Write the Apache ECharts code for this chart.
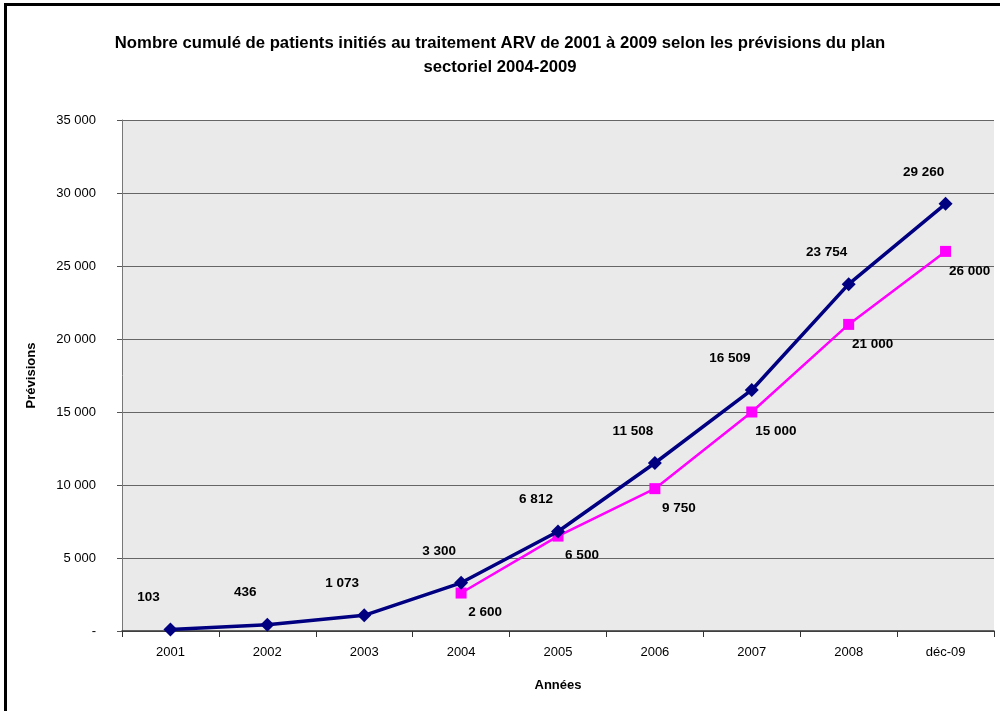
<!DOCTYPE html>
<html>
<head>
<meta charset="UTF-8">
<title>Patients ARV</title>
<style>
  html, body { margin: 0; padding: 0; background: #fff; }
  #chart { width: 1000px; height: 711px; }
</style>
</head>
<body>
<div id="chart"></div>
<script src="https://cdn.jsdelivr.net/npm/echarts@6/dist/echarts.min.js"></script>
<script>
// données
var annees = ['2001', '2002', '2003', '2004', '2005', '2006', '2007', '2008', 'déc-09'];
var cumulPatients = [103, 436, 1073, 3300, 6812, 11508, 16509, 23754, 29260];
var previsionsPlan = [null, null, null, 2600, 6500, 9750, 15000, 21000, 26000];
var yTicks = { min: 0, max: 35000, interval: 5000 };
var titre = [
  'Nombre cumulé de patients initiés au traitement ARV de 2001 à 2009 selon les prévisions du plan',
  'sectoriel 2004-2009'
];

// format "29 260"
function fmt(v) {
  if (v === 0) return '-';
  return String(v).replace(/\B(?=(\d{3})+(?!\d))/g, ' ');
}

var chart = echarts.init(document.getElementById('chart'));
var font = 'Liberation Sans, Arial, sans-serif';

var titles = titre.map(function (t, i) {
  return {
    text: t,
    left: 'center',
    top: 30 + i * 24,
    textStyle: { fontSize: 16.7, fontWeight: 'bold', color: '#000', fontFamily: font }
  };
});

chart.setOption({
  backgroundColor: '#fff',
  animation: false,
  textStyle: { fontFamily: font },
  title: titles,
  graphic: [{
    type: 'rect',
    shape: { x: 5.5, y: 4.5, width: 1000, height: 720 },
    style: { fill: 'none', stroke: '#000', lineWidth: 3 },
    silent: true
  }],
  grid: {
    left: 122, right: 6, top: 120, bottom: 80,
    show: true,
    backgroundColor: '#eaeaea',
    borderWidth: 0
  },
  xAxis: {
    type: 'category',
    data: annees,
    boundaryGap: true,
    name: 'Années',
    nameLocation: 'middle',
    nameGap: 48,
    nameTextStyle: { fontWeight: 'bold', fontSize: 13, color: '#000' },
    axisLine: { lineStyle: { color: '#333', width: 1.5 } },
    axisTick: { show: true, length: 6, lineStyle: { color: '#333' } },
    axisLabel: { color: '#000', fontSize: 13, margin: 15 }
  },
  yAxis: {
    type: 'value',
    min: yTicks.min,
    max: yTicks.max,
    interval: yTicks.interval,
    name: 'Prévisions',
    nameLocation: 'middle',
    nameGap: 84,
    nameRotate: 90,
    nameTextStyle: { fontWeight: 'bold', fontSize: 13, color: '#000' },
    axisLine: { show: true, lineStyle: { color: '#777' } },
    axisTick: { show: true, length: 5, lineStyle: { color: '#555' } },
    axisLabel: { color: '#000', fontSize: 13, margin: 26, formatter: fmt },
    splitLine: { lineStyle: { color: '#666', width: 1 } }
  },
  series: [{
    name: 'Cumul',
    type: 'line',
    data: cumulPatients,
    symbol: 'diamond',
    symbolSize: 14,
    itemStyle: { color: '#000080' },
    lineStyle: { color: '#000080', width: 3.5 },
    label: {
      show: true,
      position: 'top',
      offset: [-22, -13],
      fontWeight: 'bold',
      fontSize: 13.5,
      color: '#000',
      formatter: function (p) { return fmt(p.value); }
    },
    z: 3
  }, {
    name: 'Plan',
    type: 'line',
    data: previsionsPlan,
    symbol: 'rect',
    symbolSize: 11,
    itemStyle: { color: '#ff00ff' },
    lineStyle: { color: '#ff00ff', width: 2.5 },
    label: {
      show: true,
      position: 'bottom',
      offset: [24, 2],
      fontWeight: 'bold',
      fontSize: 13.5,
      color: '#000',
      formatter: function (p) { return fmt(p.value); }
    },
    z: 2
  }]
});
</script>
</body>
</html>
